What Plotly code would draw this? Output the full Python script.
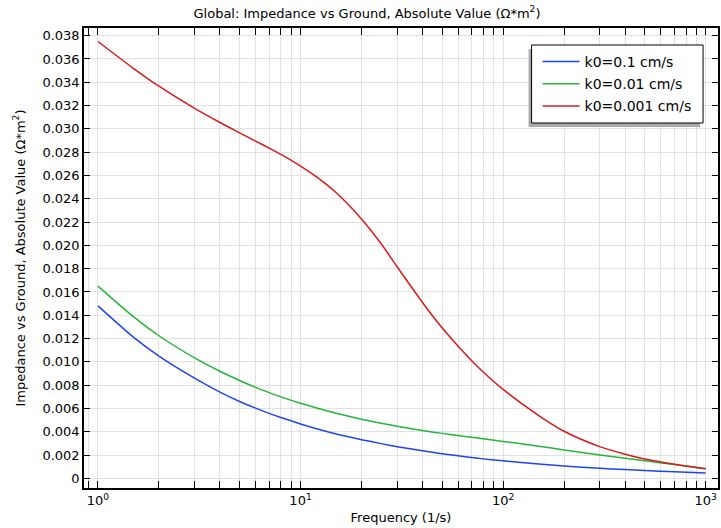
import plotly.graph_objects as go

freq = [1, 1.5, 2, 3, 4, 5, 6, 7, 8, 10, 12, 15, 20, 25, 30, 40, 50, 60, 70, 80, 100, 150, 200, 300, 400, 500, 700, 1000]
z_k01 = [0.0148, 0.0121, 0.0105, 0.0086, 0.0074, 0.0066, 0.00603, 0.00558, 0.00522, 0.00467, 0.00426, 0.00381,
         0.00332, 0.00298, 0.00272, 0.00236, 0.00211, 0.00193, 0.00179, 0.00167, 0.0015, 0.00122, 0.00106,
         0.00086, 0.00075, 0.00067, 0.00056, 0.00046]
z_k001 = [0.0165, 0.01386, 0.01224, 0.01034, 0.00919, 0.0084, 0.00781, 0.00736, 0.00699, 0.00644, 0.00604, 0.00559,
          0.00508, 0.00473, 0.00447, 0.00411, 0.00386, 0.00367, 0.00352, 0.00339, 0.00317, 0.00276, 0.00243,
          0.00201, 0.00173, 0.00151, 0.00119, 0.00083]
z_k0001 = [0.0375, 0.03518, 0.03366, 0.03176, 0.03055, 0.02966, 0.02895, 0.02835, 0.02781, 0.02681, 0.02588, 0.02452,
           0.02227, 0.02014, 0.01816, 0.0151, 0.01292, 0.01134, 0.0101, 0.00911, 0.00764, 0.00539, 0.00404,
           0.00272, 0.00207, 0.00166, 0.00121, 0.00082]

series_names = ["k0=0.1 cm/s", "k0=0.01 cm/s", "k0=0.001 cm/s"]
series_colors = ["#1f45f2", "#26b43a", "#d51b1b"]

x_major = [1, 10, 100, 1000]
x_major_text = ["10<sup>0</sup>", "10<sup>1</sup>", "10<sup>2</sup>", "10<sup>3</sup>"]
x_minor = [0.9] + [m * d for d in (1, 10, 100) for m in range(2, 10)]
y_ticks = [i * 0.002 for i in range(20)]
y_text = ["0"] + [f"{v:.3f}" for v in y_ticks[1:]]

FONT = "DejaVu Sans"
grid = "rgb(226,226,226)"

fig = go.Figure()
for name, ys, col in zip(series_names, [z_k01, z_k001, z_k0001], series_colors):
    fig.add_trace(go.Scatter(x=freq, y=ys, mode="lines", name=name, legendgroup=name,
                             line=dict(color=col, width=1.5, shape="spline", smoothing=0.7)))

L, R, T, B = 84, 1, 28, 40
W, H = 721, 528
pw, ph = W - L - R, H - T - B

def px(x):
    return (x - L) / pw

def py(y):
    return 1 - (y - T) / ph

# legend shadow and frame
fig.add_shape(type="rect", xref="paper", yref="paper", x0=px(530), x1=px(702), y0=py(127), y1=py(49),
              fillcolor="rgb(170,170,170)", line=dict(width=0), layer="above")
fig.add_shape(type="rect", xref="paper", yref="paper", x0=px(533), x1=px(705), y0=py(123), y1=py(45),
              fillcolor="white", line=dict(width=1, color="black"), layer="above")

fig.update_layout(
    width=W, height=H,
    margin=dict(l=L, r=R, t=T, b=B),
    paper_bgcolor="white", plot_bgcolor="white",
    font=dict(family=FONT, size=13, color="black"),
    title=dict(text="Global: Impedance vs Ground, Absolute Value (Ω*m<sup>2</sup>)",
               x=367 / W, xref="container", xanchor="center", y=1 - 13 / H, yref="container",
               yanchor="middle", font=dict(size=13)),
    legend=dict(x=px(539), xanchor="left", y=py(46), yanchor="top",
                bgcolor="rgba(0,0,0,0)", borderwidth=0, itemwidth=37,
                font=dict(size=14, family=FONT), tracegroupgap=1),
    showlegend=True,
)
fig.update_xaxes(type="log", range=[-0.069, 3.061],
                 tickmode="array", tickvals=x_major, ticktext=x_major_text,
                 ticks="inside", ticklen=7, tickwidth=1, tickcolor="black",
                 showline=True, linecolor="black", linewidth=1.5, mirror="allticks",
                 showgrid=True, gridcolor=grid, gridwidth=1, zeroline=False,
                 minor=dict(tickmode="array", tickvals=x_minor, ticks="inside", ticklen=7,
                            tickcolor="black", showgrid=True, gridcolor=grid, gridwidth=1),
                 title=dict(text="Frequency (1/s)", standoff=6, font=dict(size=13)))
fig.update_yaxes(range=[-0.00083, 0.03866],
                 tickmode="array", tickvals=y_ticks, ticktext=y_text,
                 ticks="inside", ticklen=6, tickwidth=1, tickcolor="black",
                 showline=True, linecolor="black", linewidth=1.5, mirror="allticks",
                 showgrid=True, gridcolor=grid, gridwidth=1, zeroline=False,
                 title=dict(text="Impedance vs Ground, Absolute Value (Ω*m<sup>2</sup>)",
                            standoff=14, font=dict(size=13)))

fig.write_html("out.html")
